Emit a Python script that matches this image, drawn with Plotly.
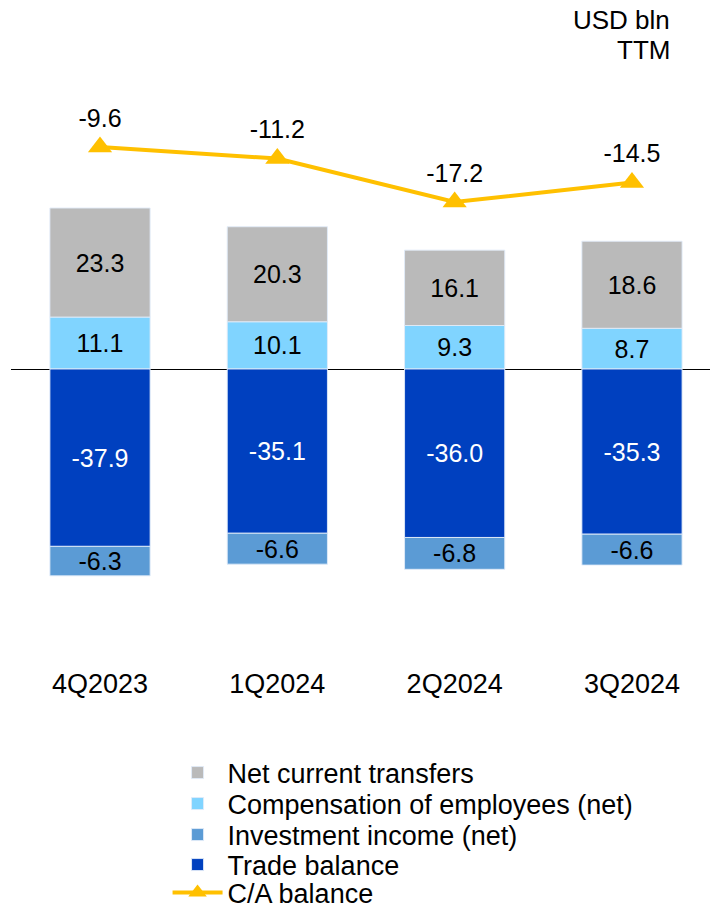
import plotly.graph_objects as go

# Data
quarters = ["4Q2023", "1Q2024", "2Q2024", "3Q2024"]
net_transfers = [23.3, 20.3, 16.1, 18.6]
compensation = [11.1, 10.1, 9.3, 8.7]
investment_income = [-6.3, -6.6, -6.8, -6.6]
trade_balance = [-37.9, -35.1, -36.0, -35.3]
ca_balance = [-9.6, -11.2, -17.2, -14.5]

FONT = "Liberation Sans, Arial, sans-serif"
edge = dict(color="rgba(225,235,248,0.9)", width=1)
W, H = 710, 909

fig = go.Figure()

# Stacking order: first trace sits next to the zero line
fig.add_trace(go.Bar(
    x=quarters, y=compensation, name="Compensation of employees (net)",
    marker=dict(color="#80D4FF", line=edge), legend="legend2",
    text=[f"{v:.1f}" for v in compensation], textfont=dict(color="black"),
))
fig.add_trace(go.Bar(
    x=quarters, y=trade_balance, name="Trade balance",
    marker=dict(color="#0040BF", line=edge), legend="legend4",
    text=[f"{v:.1f}" for v in trade_balance], textfont=dict(color="white"),
))
fig.add_trace(go.Bar(
    x=quarters, y=net_transfers, name="Net current transfers",
    marker=dict(color="#BABABA", line=edge), legend="legend",
    text=[f"{v:.1f}" for v in net_transfers], textfont=dict(color="black"),
))
fig.add_trace(go.Bar(
    x=quarters, y=investment_income, name="Investment income (net)",
    marker=dict(color="#5B9BD5", line=edge), legend="legend3",
    text=[f"{v:.1f}" for v in investment_income], textfont=dict(color="black"),
))
fig.update_traces(textposition="inside", insidetextanchor="middle",
                  textangle=0, selector=dict(type="bar"))

# C/A balance on its own (hidden) axis
fig.add_trace(go.Scatter(
    x=quarters, y=ca_balance, name="C/A balance", yaxis="y2",
    mode="lines+markers+text", legend="legend5",
    line=dict(color="#FFC000", width=4),
    marker=dict(symbol="triangle-up", size=21, color="#FFC000"),
    text=[f"{v:.1f}" for v in ca_balance], textposition="top center",
    textfont=dict(color="black", size=25),
))

# one legend per row so the rows sit ~31px apart
row_centers = [773, 804, 835, 865, 893]
legend_rows = {}
for i, key in enumerate(["legend", "legend2", "legend3", "legend4", "legend5"]):
    legend_rows[key] = dict(
        xref="container", yref="container", x=0.236, xanchor="left",
        y=1 - row_centers[i] / H, yanchor="middle", itemwidth=50,
        font=dict(size=27), bgcolor="rgba(0,0,0,0)",
    )

fig.update_layout(
    width=W, height=H, showlegend=True,
    barmode="relative", bargap=0.435,
    plot_bgcolor="white", paper_bgcolor="white",
    font=dict(family=FONT, size=25, color="black"),
    uniformtext=dict(minsize=25, mode="show"),
    margin=dict(l=11, r=0, t=60, b=244, autoexpand=False),
    xaxis=dict(range=[-0.502, 3.44], showline=False, showgrid=False,
               ticks="", tickfont=dict(size=27)),
    yaxis=dict(range=[-63.25, 66.03], showgrid=False, automargin=False,
               showticklabels=False, zeroline=True, zerolinecolor="black",
               zerolinewidth=1),
    yaxis2=dict(range=[-81.15, 2.42], overlaying="y", visible=False),
    annotations=[
        dict(text="USD bln", xref="paper", yref="paper", x=1.0, y=1.0,
             xanchor="right", yanchor="middle", showarrow=False,
             xshift=-38, yshift=40, font=dict(size=26)),
        dict(text="TTM", xref="paper", yref="paper", x=1.0, y=1.0,
             xanchor="right", yanchor="middle", showarrow=False,
             xshift=-38, yshift=10, font=dict(size=26)),
    ],
    **legend_rows,
)

# drop the default 8px body margin so the figure fills the window
fig.write_html("out.html", config={"displayModeBar": False},
               post_script="document.body.style.margin='0';")
